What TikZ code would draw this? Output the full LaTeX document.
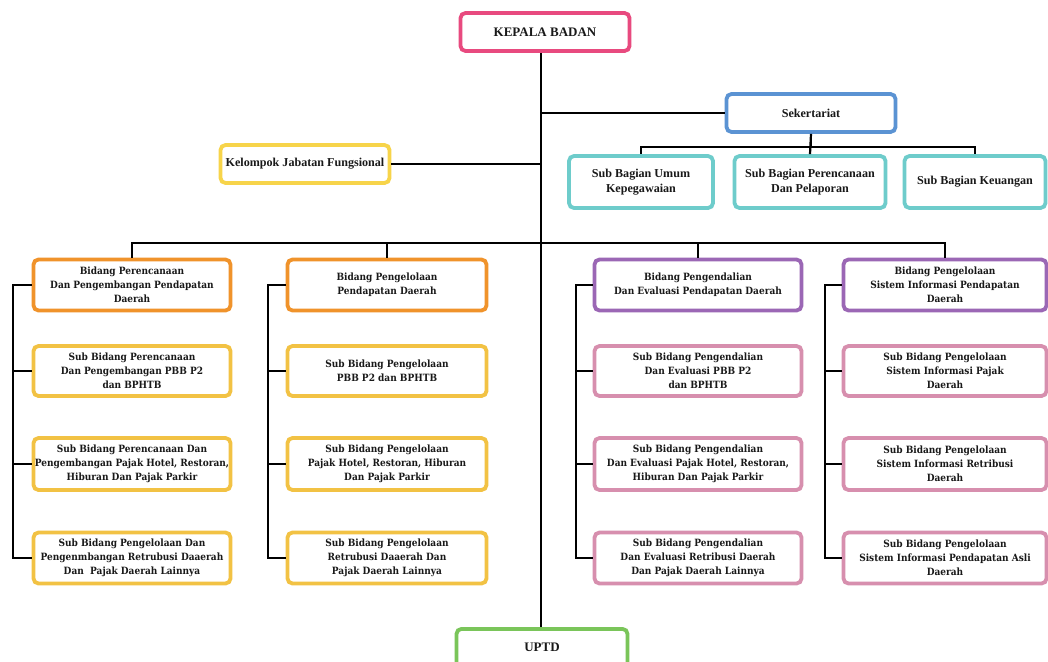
\documentclass[tikz,border=0pt]{standalone}
\usepackage{fontspec}
\setmainfont{DejaVu Serif Condensed}
\newfontfamily\topfont{Liberation Serif}
\definecolor{cpink}{HTML}{E84A7F}
\definecolor{cblue}{HTML}{5B93D3}
\definecolor{cyel}{HTML}{F7D44A}
\definecolor{cteal}{HTML}{6ECCCB}
\definecolor{corange}{HTML}{F0932B}
\definecolor{csub}{HTML}{F2C244}
\definecolor{cpurple}{HTML}{9B67B5}
\definecolor{cpsub}{HTML}{D78FAE}
\definecolor{cgreen}{HTML}{7AC55A}
\tikzset{
  box/.style={draw, line width=3.8pt, rounded corners=5pt, fill=white, align=center, inner sep=0pt, text=black!90},
  topbox/.style={box, font=\topfont\bfseries\fontsize{12.1}{14.5}\selectfont},
  lowbox/.style={box, font=\bfseries\fontsize{10}{13.8}\selectfont},
  conn/.style={line width=2.2pt, black}
}
\begin{document}
\begin{tikzpicture}[x=1pt,y=-1pt]
\useasboundingbox (0,0) rectangle (1048,661);
\clip (0,0) rectangle (1048,661);
\fill[white] (0,0) rectangle (1048,661);
% top
\node[topbox, draw=cpink, minimum width=169pt, minimum height=38pt, font=\topfont\bfseries\fontsize{13}{15}\selectfont] (kb) at (545,32) {KEPALA BADAN};
\node[topbox, draw=cblue, minimum width=169pt, minimum height=38pt] (sek) at (811,113) {Sekertariat};
\node[topbox, draw=cyel, minimum width=169pt, minimum height=38pt] (kjf) at (305,164) {Kelompok Jabatan Fungsional};
\node[topbox, draw=cteal, minimum width=144pt, minimum height=52pt] (sb1) at (641,182) {Sub Bagian Umum\\Kepegawaian};
\node[topbox, draw=cteal, minimum width=151pt, minimum height=52pt] (sb2) at (810,182) {Sub Bagian Perencanaan\\Dan Pelaporan};
\node[topbox, draw=cteal, minimum width=141pt, minimum height=52pt] (sb3) at (975,182) {Sub Bagian Keuangan};
% bidang
\node[lowbox, draw=corange, minimum width=197pt, minimum height=51pt] (b1) at (132,285) {Bidang Perencanaan\\Dan Pengembangan Pendapatan\\Daerah};
\node[lowbox, draw=corange, minimum width=199pt, minimum height=51pt] (b2) at (387,285) {Bidang Pengelolaan\\Pendapatan Daerah};
\node[lowbox, draw=cpurple, minimum width=207pt, minimum height=51pt] (b3) at (698,285) {Bidang Pengendalian\\Dan Evaluasi Pendapatan Daerah};
\node[lowbox, draw=cpurple, minimum width=203pt, minimum height=51pt] (b4) at (945,285) {Bidang Pengelolaan\\Sistem Informasi Pendapatan\\Daerah};
% subs col1
\node[lowbox, draw=csub, minimum width=197pt, minimum height=50pt] (s11) at (132,371) {Sub Bidang Perencanaan\\Dan Pengembangan PBB P2\\dan BPHTB};
\node[lowbox, draw=csub, minimum width=197pt, minimum height=52pt] (s12) at (132,464) {Sub Bidang Perencanaan Dan\\Pengembangan Pajak Hotel, Restoran,\\Hiburan Dan Pajak Parkir};
\node[lowbox, draw=csub, minimum width=197pt, minimum height=51pt] (s13) at (132,558) {Sub Bidang Pengelolaan Dan\\Pengenmbangan Retrubusi Daaerah\\Dan\ \ Pajak Daerah Lainnya};
% col2
\node[lowbox, draw=csub, minimum width=199pt, minimum height=50pt] (s21) at (387,371) {Sub Bidang Pengelolaan\\PBB P2 dan BPHTB};
\node[lowbox, draw=csub, minimum width=199pt, minimum height=52pt] (s22) at (387,464) {Sub Bidang Pengelolaan\\Pajak Hotel, Restoran, Hiburan\\Dan Pajak Parkir};
\node[lowbox, draw=csub, minimum width=199pt, minimum height=51pt] (s23) at (387,558) {Sub Bidang Pengelolaan\\Retrubusi Daaerah Dan\\Pajak Daerah Lainnya};
% col3
\node[lowbox, draw=cpsub, minimum width=207pt, minimum height=50pt] (s31) at (698,371) {Sub Bidang Pengendalian\\Dan Evaluasi PBB P2\\dan BPHTB};
\node[lowbox, draw=cpsub, minimum width=207pt, minimum height=52pt] (s32) at (698,464) {Sub Bidang Pengendalian\\Dan Evaluasi Pajak Hotel, Restoran,\\Hiburan Dan Pajak Parkir};
\node[lowbox, draw=cpsub, minimum width=207pt, minimum height=51pt] (s33) at (698,558) {Sub Bidang Pengendalian\\Dan Evaluasi Retribusi Daerah\\Dan Pajak Daerah Lainnya};
% col4
\node[lowbox, draw=cpsub, minimum width=203pt, minimum height=50pt] (s41) at (945,371) {Sub Bidang Pengelolaan\\Sistem Informasi Pajak\\Daerah};
\node[lowbox, draw=cpsub, minimum width=203pt, minimum height=52pt] (s42) at (945,464) {Sub Bidang Pengelolaan\\Sistem Informasi Retribusi\\Daerah};
\node[lowbox, draw=cpsub, minimum width=203pt, minimum height=51pt] (s43) at (945,558) {Sub Bidang Pengelolaan\\Sistem Informasi Pendapatan Asli\\Daerah};
% uptd
\node[topbox, draw=cgreen, minimum width=171pt, minimum height=50pt, anchor=north, text depth=14pt, font=\topfont\bfseries\fontsize{13}{15}\selectfont] (uptd) at (542,627) {UPTD};
% connectors
\coordinate (bus) at (541,243);
\draw[conn] (kb.south -| 541,0) -- (uptd.north -| 541,0);
\draw[conn] (541,113) -- (sek.west);
\draw[conn] (kjf.east) -- (541,164);
\draw[conn] (sek.south) -- ++(0,13) -| (sb1.north);
\draw[conn] (sek.south) ++(0,13) -| (sb3.north);
\draw[conn] (sek.south) -- (sb2.north);
\draw[conn] (b1.north) |- (bus) -| (b4.north);
\draw[conn] (b2.north) -- (b2.north |- bus);
\draw[conn] (b3.north) -- (b3.north |- bus);
\foreach \c/\x in {1/13,2/268,3/576,4/825}{
  \draw[conn] (b\c.west) -- (\x,285) |- (s\c3.west);
  \draw[conn] (\x,371) -- (s\c1.west);
  \draw[conn] (\x,464) -- (s\c2.west);
}
\end{tikzpicture}
\end{document}
